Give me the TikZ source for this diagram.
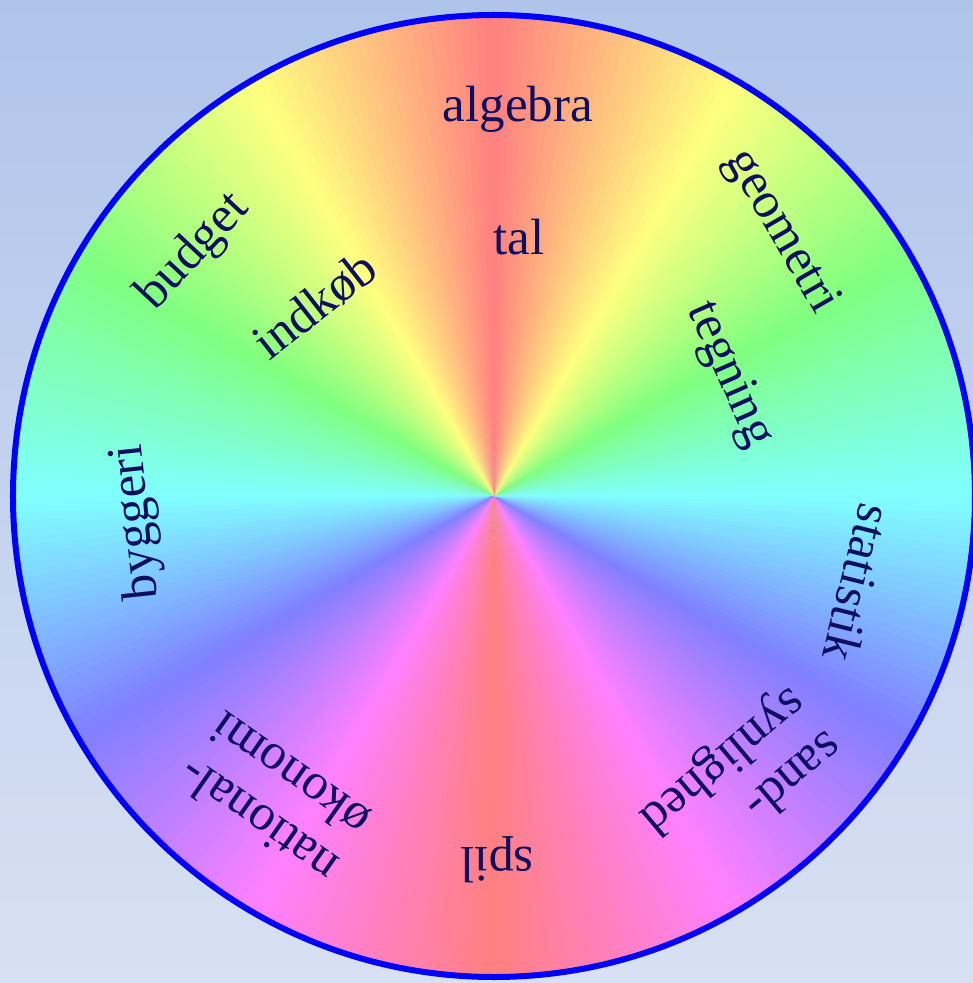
\documentclass[tikz,border=0pt]{standalone}
\usepackage{fontspec}
\setmainfont{Liberation Serif}
\definecolor{bgtop}{RGB}{176,196,234}
\definecolor{bgbot}{RGB}{216,225,243}
\definecolor{txt}{RGB}{15,15,95}
\tikzset{lbl/.style={text=txt, inner sep=0pt, font=\fontsize{51}{56}\selectfont, align=left}}
\begin{document}
\begin{tikzpicture}[x=1pt,y=1pt]
\clip (-494,-487) rectangle (479,496);
\useasboundingbox (-494,-487) rectangle (479,496);
\shade[top color=bgtop,bottom color=bgbot] (-494,-487) rectangle (479,496);
\coordinate (O) at (0,0);
\foreach \a in {-90,...,269}{
  \pgfmathsetmacro\h{min(359.9,2*abs(\a+0.5-90))}
  \definecolor{wc}{Hsb}{\h,0.5,1}
  \fill[wc] (O) -- (\a:480) arc[start angle=\a, end angle=\a+1.3, radius=480] -- cycle;
}
\draw[blue, line width=6pt] (O) circle[radius=481];
\node[lbl] (algebra) at (24,387) {algebra};
\node[lbl] (tal) at (25,259) {tal};
\node[lbl, rotate=-60] (geometri) at (287,264) {geometri};
\node[lbl, rotate=-66] (tegning) at (235,121) {tegning};
\node[lbl, rotate=-104] (statistik) at (364,-87) {statistik};
\node[lbl, rotate=-140] (sand) at (246,-285) {sand-\\synlighed};
\node[lbl, rotate=180] (spil) at (3,-364) {spil};
\node[lbl, rotate=145] (nat) at (-220,-302) {national-\\økonomi};
\node[lbl, rotate=96] (bygg) at (-357,-26) {byggeri};
\node[lbl, rotate=47] (budget) at (-300,244) {budget};
\node[lbl, rotate=38] (indkob) at (-179,191) {indkøb};
\end{tikzpicture}
\end{document}
